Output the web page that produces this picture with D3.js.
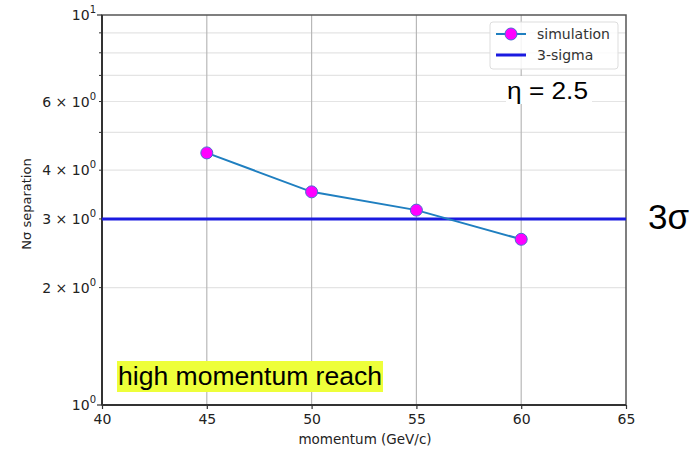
<!DOCTYPE html>
<html>
<head>
<meta charset="utf-8">
<script src="https://cdn.jsdelivr.net/npm/d3@7"></script>
<style>
  body { margin: 0; background: #fff; }
  svg { font-family: "DejaVu Sans", sans-serif; }
</style>
</head>
<body>
<div id="chart"></div>
<script>
// data
const momentum = [45, 50, 55, 60];
const separation = [4.43, 3.52, 3.16, 2.66];
const sigmaLevel = 3;
const xTicks = [40, 45, 50, 55, 60, 65];
const yLabelTicks = [2, 3, 4, 6];
const yMinorTicks = [2, 3, 4, 5, 6, 7, 8, 9];

const W = 693, H = 449;
const margin = { top: 15, right: 67, bottom: 44, left: 102 };
const width = W - margin.left - margin.right;
const height = H - margin.top - margin.bottom;

const svg = d3.select("#chart").append("svg")
  .attr("width", W).attr("height", H);

const g = svg.append("g")
  .attr("transform", `translate(${margin.left},${margin.top})`);

const x = d3.scaleLinear().domain([40, 65]).range([0, width]);
const y = d3.scaleLog().domain([1, 10]).range([height, 0]);

// horizontal grid lines (minor log ticks)
g.append("g").selectAll("line")
  .data(yMinorTicks)
  .enter().append("line")
  .attr("x1", 0).attr("x2", width)
  .attr("y1", d => y(d)).attr("y2", d => y(d))
  .attr("stroke", "#e4e4e4").attr("stroke-width", 1.2);

// vertical grid lines
g.append("g").selectAll("line")
  .data(xTicks.slice(1, -1))
  .enter().append("line")
  .attr("x1", d => x(d)).attr("x2", d => x(d))
  .attr("y1", 0).attr("y2", height)
  .attr("stroke", "#b8b8b8").attr("stroke-width", 1.2);

// frame
g.append("rect")
  .attr("width", width).attr("height", height)
  .attr("fill", "none").attr("stroke", "#555").attr("stroke-width", 1.5);
g.append("line").attr("x1", 0).attr("x2", 0).attr("y1", 0).attr("y2", height)
  .attr("stroke", "#333").attr("stroke-width", 2);
g.append("line").attr("x1", 0).attr("x2", width).attr("y1", height).attr("y2", height)
  .attr("stroke", "#333").attr("stroke-width", 2);

// x axis
const xAxis = g.append("g")
  .attr("transform", `translate(0,${height})`)
  .call(d3.axisBottom(x).tickValues(xTicks).tickSize(4).tickPadding(5));
xAxis.select(".domain").remove();
xAxis.selectAll("text").attr("font-size", 14).attr("fill", "#222")
  .attr("font-family", "DejaVu Sans");
xAxis.selectAll("line").attr("stroke", "#333").attr("stroke-width", 1.2);

// y axis: major ticks 1, 10 and minor ticks
const yAxis = g.append("g");
yAxis.selectAll("line.minor")
  .data(yMinorTicks)
  .enter().append("line")
  .attr("x1", -3).attr("x2", 0)
  .attr("y1", d => y(d)).attr("y2", d => y(d))
  .attr("stroke", "#333").attr("stroke-width", 1);
yAxis.selectAll("line.major")
  .data([1, 10])
  .enter().append("line")
  .attr("x1", -5).attr("x2", 0)
  .attr("y1", d => y(d)).attr("y2", d => y(d))
  .attr("stroke", "#333").attr("stroke-width", 1.2);

// major labels 10^0, 10^1
const majorLbl = yAxis.selectAll("text.major")
  .data([[1, "0"], [10, "1"]])
  .enter().append("text")
  .attr("x", -6).attr("y", d => y(d[0]) + 5)
  .attr("text-anchor", "end")
  .attr("font-size", 14).attr("fill", "#222");
majorLbl.append("tspan").text("10");
majorLbl.append("tspan").attr("dy", -7).attr("font-size", 10).text(d => d[1]);

// minor labels n × 10^0
const minorLbl = yAxis.selectAll("text.minor")
  .data(yLabelTicks)
  .enter().append("text")
  .attr("x", -6).attr("y", d => y(d) + 5)
  .attr("text-anchor", "end")
  .attr("font-size", 14).attr("fill", "#222");
minorLbl.append("tspan").text(d => `${d} \u00d7 10`);
minorLbl.append("tspan").attr("dy", -7).attr("font-size", 10).text("0");

// axis titles
svg.append("text")
  .attr("x", 365).attr("y", 444)
  .attr("text-anchor", "middle").attr("font-size", 13.5).attr("fill", "#222")
  .text("momentum (GeV/c)");
svg.append("text")
  .attr("transform", `translate(31,204) rotate(-90)`)
  .attr("text-anchor", "middle").attr("font-size", 13).attr("fill", "#222")
  .text("N\u03c3 separation");

// 3-sigma line
g.append("line")
  .attr("x1", 0).attr("x2", width)
  .attr("y1", y(sigmaLevel)).attr("y2", y(sigmaLevel))
  .attr("stroke", "#1a1ae0").attr("stroke-width", 3);

// simulation line + markers
const pts = momentum.map((m, i) => ({ m, v: separation[i] }));
const line = d3.line().x(d => x(d.m)).y(d => y(d.v));
g.append("path")
  .datum(pts)
  .attr("fill", "none").attr("stroke", "#1f7fc0").attr("stroke-width", 2)
  .attr("d", line);
g.selectAll("circle.pt")
  .data(pts)
  .enter().append("circle")
  .attr("cx", d => x(d.m)).attr("cy", d => y(d.v)).attr("r", 6)
  .attr("fill", "#ff00ff").attr("stroke", "#4a6ad0").attr("stroke-width", 1);

// legend
const lg = svg.append("g").attr("transform", "translate(490,22)");
lg.append("rect").attr("width", 128).attr("height", 47).attr("rx", 3)
  .attr("fill", "#fff").attr("fill-opacity", 0.85)
  .attr("stroke", "#ddd").attr("stroke-width", 1);
lg.append("line").attr("x1", 6).attr("x2", 36).attr("y1", 12).attr("y2", 12)
  .attr("stroke", "#1f7fc0").attr("stroke-width", 2);
lg.append("circle").attr("cx", 21).attr("cy", 12).attr("r", 6)
  .attr("fill", "#ff00ff").attr("stroke", "#4a6ad0");
lg.append("line").attr("x1", 6).attr("x2", 36).attr("y1", 33).attr("y2", 33)
  .attr("stroke", "#1a1ae0").attr("stroke-width", 3);
lg.append("text").attr("x", 47).attr("y", 17).attr("font-size", 14).attr("fill", "#333").text("simulation");
lg.append("text").attr("x", 47).attr("y", 38).attr("font-size", 14).attr("fill", "#333").text("3-sigma");

// eta annotation
svg.append("rect").attr("x", 506).attr("y", 76).attr("width", 86).attr("height", 28).attr("fill", "#fff");
svg.append("text").attr("x", 507).attr("y", 99)
  .attr("font-family", "Liberation Sans, Arial, sans-serif").attr("font-size", 23).attr("fill", "#000")
  .attr("textLength", 81).attr("lengthAdjust", "spacingAndGlyphs")
  .text("\u03b7 = 2.5");

// 3 sigma annotation
svg.append("text").attr("x", 648).attr("y", 229)
  .attr("font-family", "Liberation Sans, Arial, sans-serif").attr("font-size", 35).attr("fill", "#000")
  .text("3\u03c3");

// high momentum reach
svg.append("rect").attr("x", 117).attr("y", 361).attr("width", 266).attr("height", 31).attr("fill", "#eeff3a");
svg.append("text").attr("x", 118).attr("y", 385)
  .attr("font-family", "Liberation Sans, Arial, sans-serif").attr("font-size", 26).attr("fill", "#000")
  .attr("textLength", 264).attr("lengthAdjust", "spacingAndGlyphs")
  .text("high momentum reach");
</script>
</body>
</html>
